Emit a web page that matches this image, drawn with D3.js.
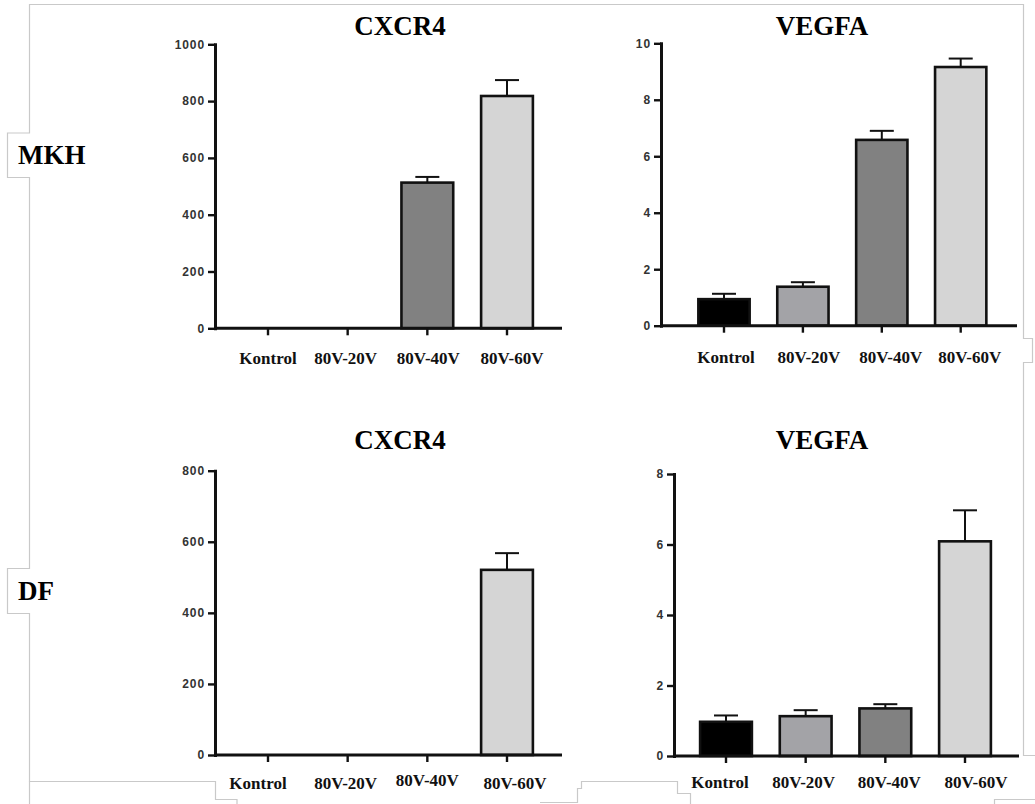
<!DOCTYPE html>
<html>
<head>
<meta charset="utf-8">
<script src="https://cdn.jsdelivr.net/npm/d3@7"></script>
<style>
  html, body { margin: 0; padding: 0; background: #fff; }
  svg { display: block; }
</style>
</head>
<body>
<svg id="chart" width="1035" height="804"></svg>
<script>
// ---------- DATA ----------
const categories = ["Kontrol", "80V-20V", "80V-40V", "80V-60V"];

const mkhCxcr4      = [0, 0, 513, 818];
const mkhCxcr4Err   = [0, 0, 20, 56];
const mkhVegfa      = [0.94, 1.38, 6.58, 9.16];
const mkhVegfaErr   = [0.19, 0.16, 0.32, 0.30];
const dfCxcr4       = [0, 0, 0, 521];
const dfCxcr4Err    = [0, 0, 0, 47];
const dfVegfa       = [0.97, 1.13, 1.35, 6.09];
const dfVegfaErr    = [0.18, 0.17, 0.12, 0.88];

const cxcr4MkhTicks = [0, 200, 400, 600, 800, 1000];
const vegfaMkhTicks = [0, 2, 4, 6, 8, 10];
const cxcr4DfTicks  = [0, 200, 400, 600, 800];
const vegfaDfTicks  = [0, 2, 4, 6, 8];

const rowLabels = ["MKH", "DF"];
const titles = ["CXCR4", "VEGFA", "CXCR4", "VEGFA"];

// ---------- STYLE / LAYOUT ----------
const barColors = ["#000000", "#a3a3a7", "#818181", "#d5d5d5"];

const panels = [
  { title: titles[0], values: mkhCxcr4, errors: mkhCxcr4Err, ticks: cxcr4MkhTicks,
    axisX: 215, xEnd: 562, y0: 328.3, yTop: 44.3, c0: 268, c3: 507,
    titleX: 400, titleY: 35, labelY: 364, labelDx: [0, -2, 1, 5], labelDy: [0, 0, 0, 0] },
  { title: titles[1], values: mkhVegfa, errors: mkhVegfaErr, ticks: vegfaMkhTicks,
    axisX: 661, xEnd: 1017, y0: 325.7, yTop: 43.3, c0: 724, c3: 960.7,
    titleX: 822, titleY: 35, labelY: 362.7, labelDx: [2, 6, 9, 9], labelDy: [0, 0, 0, 0] },
  { title: titles[2], values: dfCxcr4, errors: dfCxcr4Err, ticks: cxcr4DfTicks,
    axisX: 215, xEnd: 562, y0: 755, yTop: 470.7, c0: 268, c3: 507,
    titleX: 400, titleY: 449, labelY: 789.3, labelDx: [-10, -2, 0, 8], labelDy: [0, 0, -3, 0] },
  { title: titles[3], values: dfVegfa, errors: dfVegfaErr, ticks: vegfaDfTicks,
    axisX: 674, xEnd: 1019, y0: 756, yTop: 474, c0: 726, c3: 965,
    titleX: 822, titleY: 449, labelY: 787.7, labelDx: [-6, -2, 4, 11], labelDy: [0, 0, 0, 0] }
];

const svg = d3.select("#chart");

// ---------- FRAME (light grey bracket lines) ----------
const frameColor = "#c9c9c9";
const framePaths = [
  "M29.5,804 V781.5 H215.5 V799.5 H237 V804",
  "M29.5,781.5 V613.5 H7.5 V568.5 H29.5 V177.5 H7.5 V133 H29.5 V4.5 H1023.5 V338.5 H1032.5 V362.5 H1023.5 V755.5 H1035",
  "M540,802.5 H577.5 V788.5 H581.5 V781.5 H677.5 V793.5 H690.5 V804",
  "M994.5,804 V799.5 H1035"
];
svg.append("g").selectAll("path").data(framePaths).join("path")
  .attr("d", d => d)
  .attr("fill", "none")
  .attr("stroke", frameColor)
  .attr("stroke-width", 1.2);

// ---------- ROW LABELS ----------
svg.append("text").text(rowLabels[0])
  .attr("x", 18).attr("y", 163.5)
  .attr("font-family", "Liberation Serif, Times New Roman, serif")
  .attr("font-weight", "bold").attr("font-size", 27).attr("fill", "#000");
svg.append("text").text(rowLabels[1])
  .attr("x", 18).attr("y", 600)
  .attr("font-family", "Liberation Serif, Times New Roman, serif")
  .attr("font-weight", "bold").attr("font-size", 27).attr("fill", "#000");

// ---------- PANELS ----------
panels.forEach(p => {
  const g = svg.append("g");
  const step = (p.c3 - p.c0) / (categories.length - 1);
  const x = d3.scaleBand()
    .domain(categories)
    .range([p.c0 - step / 2, p.c3 + step / 2])
    .paddingInner(0.35)
    .paddingOuter(0.175);
  const yMax = p.ticks[p.ticks.length - 1];
  const y = d3.scaleLinear().domain([0, yMax]).range([p.y0, p.yTop]);

  // title
  g.append("text").text(p.title)
    .attr("x", p.titleX).attr("y", p.titleY)
    .attr("text-anchor", "middle")
    .attr("font-family", "Liberation Serif, Times New Roman, serif")
    .attr("font-weight", "bold").attr("font-size", 27).attr("fill", "#000");

  // bars
  const rows = categories.map((c, i) => ({ c, i, v: p.values[i], e: p.errors[i] }));
  g.append("g").selectAll("rect").data(rows.filter(d => d.v > 0)).join("rect")
    .attr("x", d => x(d.c))
    .attr("y", d => y(d.v))
    .attr("width", x.bandwidth())
    .attr("height", d => p.y0 - y(d.v))
    .attr("fill", d => barColors[d.i])
    .attr("stroke", "#111")
    .attr("stroke-width", 2.6);

  // error bars (upper only)
  const eb = g.append("g").attr("stroke", "#111").attr("stroke-width", 2);
  rows.filter(d => d.v > 0 && d.e > 0).forEach(d => {
    const cx = x(d.c) + x.bandwidth() / 2;
    eb.append("line").attr("x1", cx).attr("x2", cx)
      .attr("y1", y(d.v)).attr("y2", y(d.v + d.e));
    eb.append("line").attr("x1", cx - 12).attr("x2", cx + 12)
      .attr("y1", y(d.v + d.e)).attr("y2", y(d.v + d.e));
  });

  // y axis
  const yAxis = d3.axisLeft(y).tickValues(p.ticks).tickSizeInner(7).tickSizeOuter(0).tickPadding(3)
    .tickFormat(d3.format("d"));
  const ya = g.append("g").attr("transform", `translate(${p.axisX},0)`).call(yAxis);
  ya.select(".domain").attr("stroke", "#111").attr("stroke-width", 3).attr("stroke-linecap", "square");
  ya.selectAll(".tick line").attr("stroke", "#111").attr("stroke-width", 2.4);
  ya.selectAll(".tick text")
    .attr("font-family", "Liberation Sans, Arial, sans-serif")
    .attr("font-weight", "bold").attr("font-size", 12)
    .attr("letter-spacing", 0.9)
    .attr("fill", "#333");

  // x axis
  const xAxis = d3.axisBottom(x).tickSizeInner(7).tickSizeOuter(0).tickPadding(0);
  const xa = g.append("g").attr("transform", `translate(0,${p.y0})`).call(xAxis);
  xa.select(".domain").remove();
  xa.selectAll(".tick line").attr("stroke", "#111").attr("stroke-width", 2.4);
  xa.selectAll(".tick text")
    .attr("y", (d, i) => p.labelY - p.y0 + p.labelDy[i])
    .attr("dy", 0)
    .attr("x", (d, i) => p.labelDx[i])
    .attr("font-family", "Liberation Serif, Times New Roman, serif")
    .attr("font-weight", "bold").attr("font-size", 17)
    .attr("fill", "#111");
  g.append("line")
    .attr("x1", p.axisX).attr("x2", p.xEnd)
    .attr("y1", p.y0).attr("y2", p.y0)
    .attr("stroke", "#111").attr("stroke-width", 3);
});
</script>
</body>
</html>
